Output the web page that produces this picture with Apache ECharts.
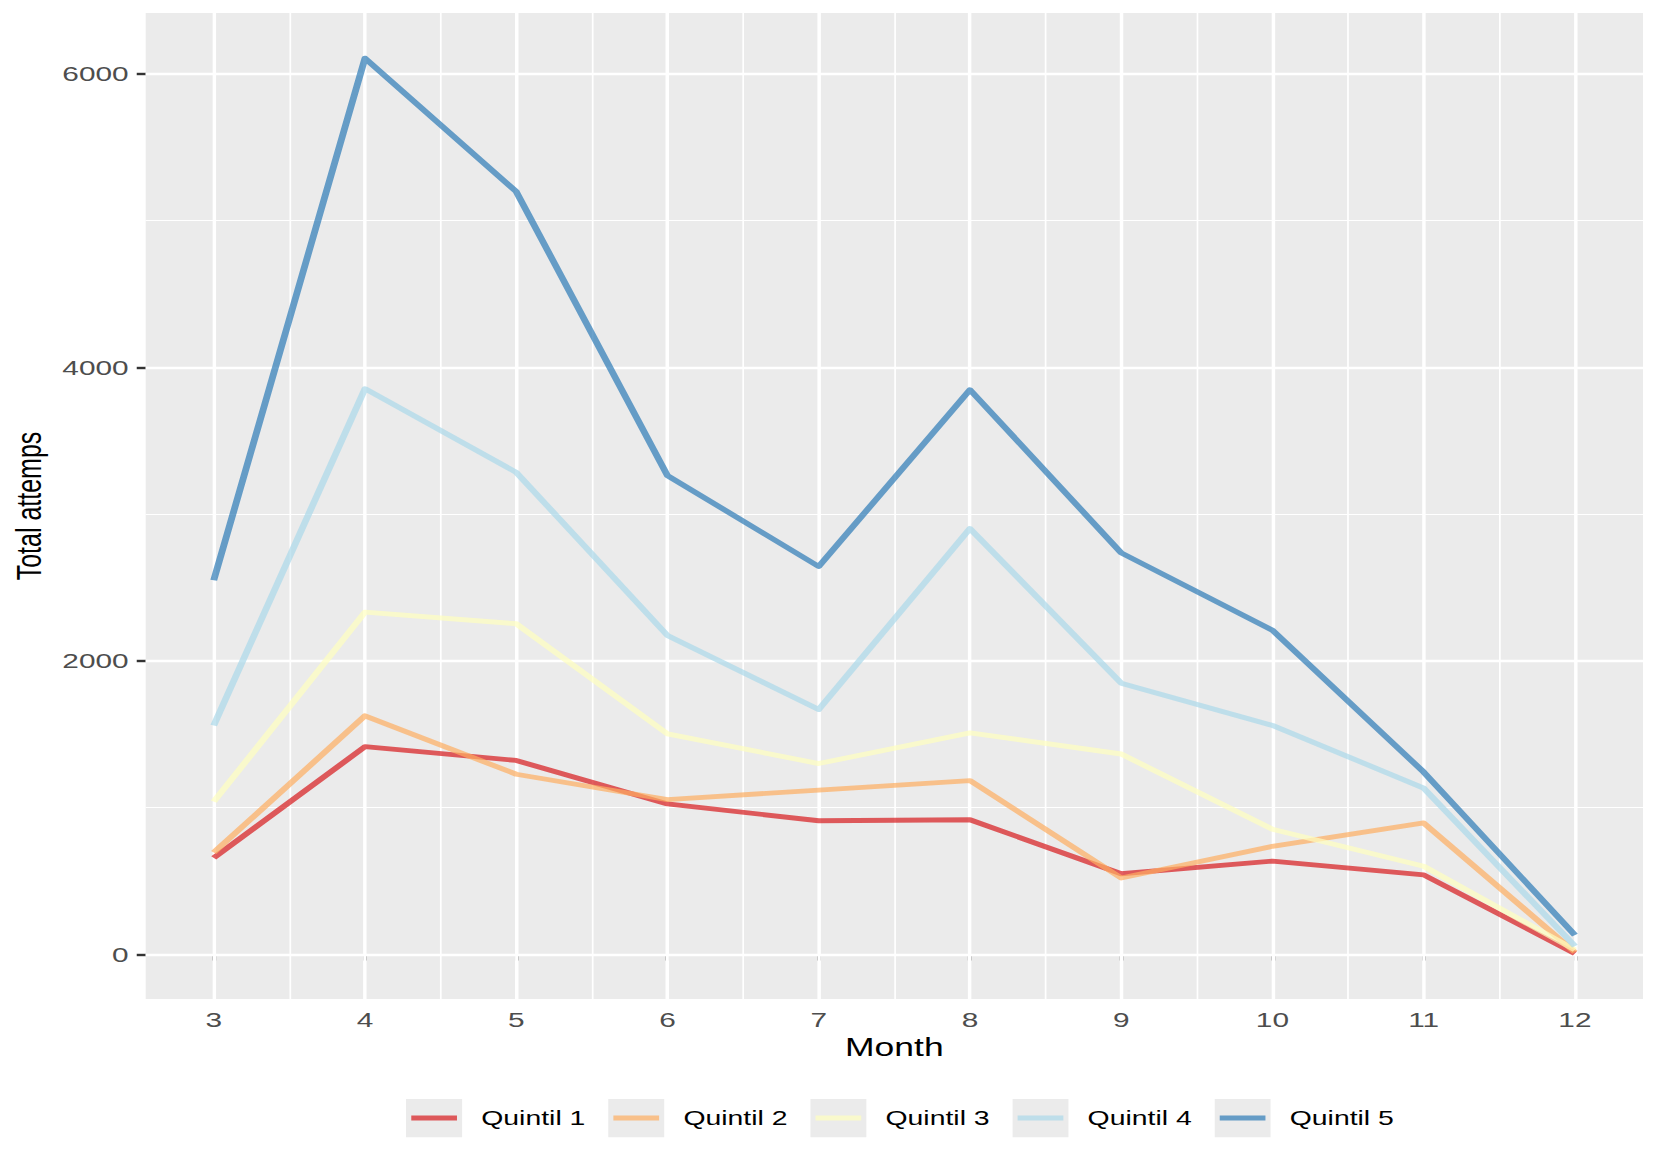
<!DOCTYPE html>
<html><head><meta charset="utf-8">
<script src="https://cdn.jsdelivr.net/npm/echarts@6/dist/echarts.min.js"></script>
<style>
html,body{margin:0;padding:0;background:#fff;overflow:hidden;width:1661px;height:1163px}
#wrap{width:1661px;height:1163px;overflow:hidden;position:relative}
#chart{width:1170px;height:1163px;transform:scaleX(1.41966);transform-origin:0 0;position:absolute;left:0;top:0}
</style></head><body><div id="wrap"><div id="chart"></div></div>
<script>
// ---- data ----
const months = [3, 4, 5, 6, 7, 8, 9, 10, 11, 12];
const quintil1 = [657, 1415, 1321, 1025, 910, 917, 549, 635, 541, 5];
const quintil2 = [693, 1625, 1227, 1054, 1119, 1184, 520, 736, 895, 14];
const quintil3 = [1040, 2332, 2253, 1502, 1300, 1509, 1365, 852, 600, 30];
const quintil4 = [1560, 3855, 3285, 2173, 1668, 2902, 1848, 1560, 1133, 55];
const quintil5 = [2549, 6108, 5199, 3263, 2643, 3848, 2736, 2209, 1242, 130];
const seriesNames = ['Quintil 1', 'Quintil 2', 'Quintil 3', 'Quintil 4', 'Quintil 5'];
const yTicks = [0, 2000, 4000, 6000];
const yMinorTicks = [1000, 3000, 5000];
const xMinorTicks = [3.5, 4.5, 5.5, 6.5, 7.5, 8.5, 9.5, 10.5, 11.5];
const xLimits = [2.55, 12.45];
const yLimits = [-305, 6416];

const values = [quintil1, quintil2, quintil3, quintil4, quintil5];
const colors = ['#D7191C', '#FDAE61', '#FFFFBF', '#ABD9E9', '#2C7BB6'];
const FONT = 'Liberation Sans, Arial, Helvetica, sans-serif';

function keyIcon(c) {
  const svg = "<svg xmlns='http://www.w3.org/2000/svg' width='48' height='39' viewBox='0 0 48 39'>" +
    "<rect x='0' y='0' width='39.5' height='39' fill='#EBEBEB'/>" +
    "<line x1='3.7' y1='19.5' x2='35.9' y2='19.5' stroke='" + c + "' stroke-opacity='0.7' stroke-width='4.86'/></svg>";
  return 'image://data:image/svg+xml;charset=utf-8,' + encodeURIComponent(svg);
}

const gridLines = [];
yTicks.forEach(v => gridLines.push({ yAxis: v, lineStyle: { color: '#FFFFFF', width: 2.43, type: 'solid', opacity: 1 } }));
yMinorTicks.forEach(v => gridLines.push({ yAxis: v, lineStyle: { color: '#FFFFFF', width: 1.2, type: 'solid', opacity: 1 } }));
months.forEach(v => gridLines.push({ xAxis: v, lineStyle: { color: '#FFFFFF', width: 2.43, type: 'solid', opacity: 1 } }));
xMinorTicks.forEach(v => gridLines.push({ xAxis: v, lineStyle: { color: '#FFFFFF', width: 1.2, type: 'solid', opacity: 1 } }));

const series = [{
  type: 'line', name: '__grid', data: [], z: 1, silent: true, animation: false,
  markLine: {
    z: 1, silent: true, animation: false, symbol: ['none', 'none'],
    label: { show: false }, emphasis: { disabled: true },
    data: gridLines
  }
}];
seriesNames.forEach((n, i) => {
  series.push({
    type: 'line', name: n, z: 3, animation: false, symbol: 'none', showSymbol: false,
    data: months.map((m, j) => [m, values[i][j]]),
    lineStyle: { color: colors[i], width: 4.86, opacity: 0.7, cap: 'butt', join: 'round' },
    itemStyle: { color: colors[i] },
    emphasis: { disabled: true }
  });
});

const chart = echarts.init(document.getElementById('chart'), null, { renderer: 'svg', width: 1170, height: 1163 });
chart.setOption({
  backgroundColor: '#FFFFFF',
  animation: false,
  grid: { left: 100.7, right: 12.7, top: 13, bottom: 164, show: true, backgroundColor: '#EBEBEB', borderWidth: 0, containLabel: false },
  legend: {
    left: 286, top: 1098.5, padding: 0, orient: 'horizontal',
    itemWidth: 48, itemHeight: 39, itemGap: 16, selectedMode: false,
    textStyle: { fontFamily: FONT, fontSize: 20, color: '#000000' },
    data: seriesNames.map((n, i) => ({ name: n, icon: keyIcon(colors[i]) }))
  },
  xAxis: {
    type: 'value', min: xLimits[0], max: xLimits[1],
    name: 'Month', nameLocation: 'middle', nameGap: 36,
    nameTextStyle: { fontFamily: FONT, fontSize: 25, color: '#000000' },
    axisLine: { show: false },
    axisTick: { show: true, customValues: months, length: 6.3, lineStyle: { color: '#333333', width: 2.43 } },
    axisLabel: { customValues: months, margin: 10, fontFamily: FONT, fontSize: 21, color: '#4D4D4D', formatter: v => String(v) },
    splitLine: { show: false }, minorSplitLine: { show: false }
  },
  yAxis: {
    type: 'value', min: yLimits[0], max: yLimits[1],
    name: 'Total attemps', nameLocation: 'middle', nameGap: 65, nameRotate: 90,
    nameTextStyle: { fontFamily: FONT, fontSize: 25, color: '#000000' },
    axisLine: { show: false },
    axisTick: { show: true, customValues: yTicks, length: 6.3, lineStyle: { color: '#333333', width: 2.43 } },
    axisLabel: { customValues: yTicks, margin: 12, fontFamily: FONT, fontSize: 21, color: '#4D4D4D', formatter: v => String(v) },
    splitLine: { show: false }, minorSplitLine: { show: false }
  },
  series: series
});
</script></body></html>
